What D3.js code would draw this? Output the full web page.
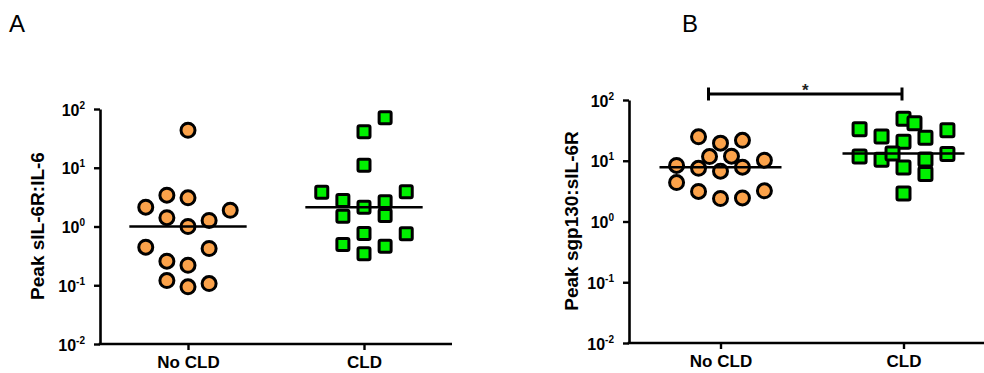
<!DOCTYPE html>
<html>
<head>
<meta charset="utf-8">
<script src="https://cdn.jsdelivr.net/npm/d3@7"></script>
<style>
  html, body { margin: 0; padding: 0; background: #fff; }
  svg { display: block; font-family: "Liberation Sans", Arial, sans-serif; }
</style>
</head>
<body>
<svg id="chart" width="984" height="373"></svg>
<script>
// ---------- data ----------
const categories = ["No CLD", "CLD"];
const yTickValues = [0.01, 0.1, 1, 10, 100];
const yTickExponents = ["-2", "-1", "0", "1", "2"];

// Panel A: Peak sIL-6R:IL-6
const aNoCLD = [43.5, 2.13, 3.41, 3.08, 1.89, 1.41, 1.0, 1.27, 0.444, 0.422, 0.257, 0.219, 0.120, 0.094, 0.107];
const aNoCLDSlot = [0, -2, -1, 0, 2, -1, 0, 1, -2, 1, -1, 0, -1, 0, 1];
const aCLD = [70.8, 40.9, 11.0, 3.84, 3.9, 2.77, 2.13, 2.63, 1.50, 1.54, 0.76, 0.75, 0.494, 0.462, 0.343];
const aCLDSlot = [1, 0, 0, -2, 2, -1, 0, 1, -1, 1, 0, 2, -1, 1, 0];

// Panel B: Peak sgp130:sIL-6R
const bNoCLD = [24.8, 19.5, 21.7, 11.7, 11.9, 10.2, 8.36, 7.51, 6.73, 7.83, 4.38, 3.12, 2.39, 2.44, 3.20];
const bNoCLDSlot = [-1, 0, 1, -0.5, 0.5, 2, -2, -1, 0, 1, -2, -1, 0, 1, 2];
const bCLD = [49.0, 41.3, 33.1, 31.7, 25.1, 23.9, 20.6, 11.7, 10.4, 13.2, 10.5, 12.9, 7.74, 6.05, 2.89];
const bCLDSlot = [0, 0.5, -2, 2, -1, 1, 0, -2, -1, -0.5, 1, 2, 0, 1, 0];

const panelLabels = ["A", "B"];
const yLabels = ["Peak sIL-6R:IL-6", "Peak sgp130:sIL-6R"];
const significance = "*";

// ---------- style ----------
const ORANGE = "#FBA24A";
const GREEN = "#00F000";
const svg = d3.select("#chart");

function panel(cfg) {
  const g = svg.append("g");
  const x = d3.scalePoint().domain(categories).range([cfg.left, cfg.right]).padding(0.5);
  const y = d3.scaleLog().domain([0.01, 100]).range([cfg.bottom, cfg.top]);
  const step = x.step();
  const jit = step * 0.12;

  // panel letter
  g.append("text").attr("x", cfg.letterX).attr("y", 32)
    .attr("font-size", 24).attr("fill", "#000").text(cfg.letter);

  // y axis
  const yAx = g.append("g").attr("transform", `translate(${cfg.left},0)`)
    .call(d3.axisLeft(y).tickValues(yTickValues).tickSize(6).tickSizeOuter(0).tickPadding(9));
  yAx.select(".domain").attr("stroke-width", 2.6).attr("stroke", "#000");
  yAx.selectAll(".tick line").attr("stroke-width", 2.4).attr("stroke", "#000");
  yAx.selectAll(".tick text").each(function(d, i) {
    const t = d3.select(this);
    t.text(null).attr("dy", null).attr("y", 6)
      .attr("font-size", 16).attr("font-weight", "bold").attr("fill", "#000")
      .attr("font-family", '"Liberation Sans", Arial, sans-serif');
    t.append("tspan").text("10");
    t.append("tspan").attr("font-size", 10).attr("dy", -7).text(yTickExponents[yTickValues.indexOf(d)]);
  });

  // x axis
  const xAx = g.append("g").attr("transform", `translate(0,${cfg.bottom})`)
    .call(d3.axisBottom(x).tickSize(6).tickSizeOuter(0));
  xAx.select(".domain").attr("stroke-width", 2.6).attr("stroke", "#000")
    .attr("d", `M${cfg.left - 1.3},0H${cfg.right}`);
  xAx.selectAll(".tick line").attr("stroke-width", 2.4).attr("stroke", "#000");
  xAx.selectAll(".tick text").attr("y", 24).attr("dy", null)
    .attr("font-size", 17).attr("font-weight", "bold").attr("fill", "#000")
    .attr("font-family", '"Liberation Sans", Arial, sans-serif');

  // y label
  g.append("text")
    .attr("transform", `translate(${cfg.yLabelX},${cfg.yLabelY}) rotate(-90)`)
    .attr("text-anchor", "middle").attr("font-size", 19).attr("font-weight", "bold")
    .attr("fill", "#000").text(cfg.yLabel);

  // circles (No CLD)
  const c0 = x(categories[0]);
  g.selectAll("circle.pt").data(cfg.g0.map((v, i) => ({ v, s: cfg.s0[i] }))).join("circle")
    .attr("class", "pt")
    .attr("cx", d => c0 + d.s * jit).attr("cy", d => y(d.v))
    .attr("r", 7).attr("fill", ORANGE).attr("stroke", "#000").attr("stroke-width", 3);

  // squares (CLD)
  const c1 = x(categories[1]);
  const sq = cfg.sq;
  g.selectAll("rect.pt").data(cfg.g1.map((v, i) => ({ v, s: cfg.s1[i] }))).join("rect")
    .attr("class", "pt")
    .attr("x", d => c1 + d.s * jit - sq / 2).attr("y", d => y(d.v) - sq / 2)
    .attr("width", sq).attr("height", sq).attr("rx", 1.5)
    .attr("fill", GREEN).attr("stroke", "#000").attr("stroke-width", 3);

  // median lines
  [[c0, cfg.g0], [c1, cfg.g1]].forEach(([cx, vals]) => {
    const m = d3.median(vals);
    g.append("line")
      .attr("x1", cx - step / 3).attr("x2", cx + step / 3)
      .attr("y1", y(m)).attr("y2", y(m))
      .attr("stroke", "#000").attr("stroke-width", 2.4);
  });

  return { g, x, y };
}

panel({
  letter: panelLabels[0], letterX: 9,
  left: 100, right: 452, top: 109, bottom: 344,
  yLabel: yLabels[0], yLabelX: 44, yLabelY: 226,
  g0: aNoCLD, s0: aNoCLDSlot, g1: aCLD, s1: aCLDSlot, sq: 12
});

const pB = panel({
  letter: panelLabels[1], letterX: 682,
  left: 629, right: 995, top: 100, bottom: 343,
  yLabel: yLabels[1], yLabelX: 578, yLabelY: 221,
  g0: bNoCLD, s0: bNoCLDSlot, g1: bCLD, s1: bCLDSlot, sq: 13
});

// significance bracket in panel B
{
  const x = pB.x, y = pB.y;
  const x1 = x(categories[0]) - 12, x2 = x(categories[1]) - 1.5;
  const yb = y(100) - 6;
  const br = pB.g.append("g").attr("stroke", "#000");
  br.append("line").attr("x1", x1).attr("x2", x2).attr("y1", yb).attr("y2", yb).attr("stroke-width", 3);
  br.append("line").attr("x1", x1).attr("x2", x1).attr("y1", yb - 6.5).attr("y2", yb + 6.5).attr("stroke-width", 3);
  br.append("line").attr("x1", x2).attr("x2", x2).attr("y1", yb - 6.5).attr("y2", yb + 6.5).attr("stroke-width", 3);
  pB.g.append("text").attr("x", (x1 + x2) / 2).attr("y", yb + 2)
    .attr("text-anchor", "middle").attr("font-size", 17).attr("font-weight", "bold")
    .attr("fill", "#222").text(significance);
}
</script>
</body>
</html>
